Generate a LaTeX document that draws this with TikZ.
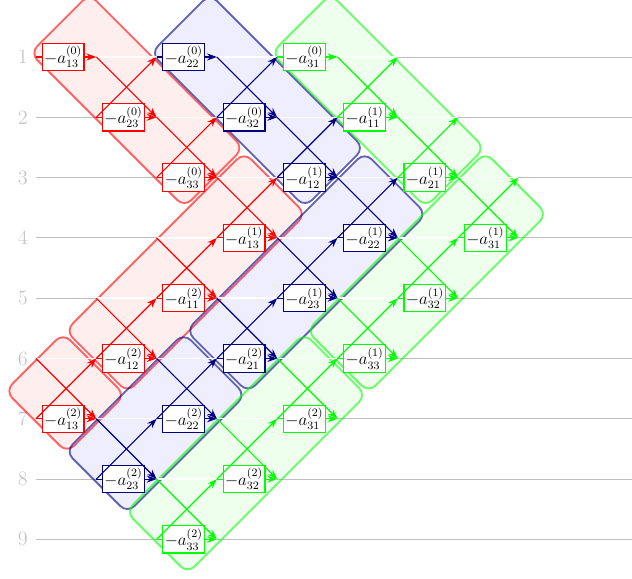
\documentclass[tikz,border=0pt]{standalone}
\usepackage{amsmath}
\usepackage{tikz}
\usetikzlibrary{calc, arrows.meta}
\definecolor{navy}{RGB}{0,0,128}

\begin{document}
\begin{tikzpicture}[x=1.5cm, y=1.5cm,
        cell/.style={draw, fill=white, line width=0.8pt, minimum width=1.04cm, minimum height=0.68cm, inner sep=1pt, font=\large},
        conn/.style={line width=0.8pt, -{Stealth[length=7pt, width=5pt]}},
        band/.style={rounded corners=7pt, line width=1.3pt, draw=#1, draw opacity=0.6, fill=#1, fill opacity=0.065},
        rowlabel/.style={text=black!22, font=\Large, anchor=east, inner sep=0pt}]
    \useasboundingbox (-0.597,-9.657) rectangle (9.884,-0.055);
    % Grid points
    \foreach \c in {0,...,8}
        \foreach \r in {1,...,9}
            \coordinate (p\c\r) at (\c,-\r);
    % Rows
    \foreach \r in {1,...,9} {
        \coordinate (e\r) at (9.884,-\r);
        \draw[black!25, line width=0.6pt] (p0\r) -- (e\r);
        \node[rowlabel] (lab\r) at (-0.13,-\r) {\r};
    }
    % Bands
    \begin{scope}[rotate=-45, scale=0.7071]
        \draw[band=red] (0.84,-1.03) rectangle (5.95,0.93);
        \draw[band=navy, fill=blue] (2.84,0.97) rectangle (7.95,2.93);
        \draw[band=green] (4.84,2.97) rectangle (9.95,4.93);
        \draw[band=red] (6.03,-5.05) rectangle (8.08,0.87);
        \draw[band=red] (6.03,-7.05) rectangle (8.08,-5.13);
        \draw[band=navy, fill=blue] (8.03,-3.05) rectangle (10.08,2.87);
        \draw[band=navy, fill=blue] (8.03,-7.05) rectangle (10.08,-3.13);
        \draw[band=green] (10.03,-1.05) rectangle (12.08,4.87);
        \draw[band=green] (10.03,-7.05) rectangle (12.08,-1.13);
    \end{scope}
    % White lines inside bands
    \foreach \a/\b/\r in {0/6/1, 1/7/2, 2/8/3, 2/8/4, 1/7/5, 0/6/6, 0/5/7, 1/4/8, 2/3/9}
        \draw[white, line width=1pt] (p\a\r) -- (p\b\r);
    % Cells
    \foreach \c/\r/\s/\k/\col in {0/1/13/0/red, 1/2/23/0/red, 2/3/33/0/red, 3/4/13/1/red,
            2/5/11/2/red, 1/6/12/2/red, 0/7/13/2/red,
            2/1/22/0/navy, 3/2/32/0/navy, 4/3/12/1/navy, 5/4/22/1/navy, 4/5/23/1/navy,
            3/6/21/2/navy, 2/7/22/2/navy, 1/8/23/2/navy,
            4/1/31/0/green, 5/2/11/1/green, 6/3/21/1/green, 7/4/31/1/green, 6/5/32/1/green,
            5/6/33/1/green, 4/7/31/2/green, 3/8/32/2/green, 2/9/33/2/green} {
        \pgfmathtruncatemacro{\cn}{\c+1}
        \pgfmathtruncatemacro{\rp}{\r-1}
        \node[cell, draw=\col] (n\c\r) at ($(p\c\r)+(0.45,0)$) {$-a^{(\k)}_{\s}$};
        \draw[\col, line width=0.8pt] (p\c\r) -- (n\c\r.west);
        \draw[conn, \col] (n\c\r.east) -- (p\cn\r);
        \ifnum\r>1
            \draw[conn, \col] (p\c\rp) -- (p\cn\r);
            \draw[conn, \col] (p\c\r) -- (p\cn\rp);
        \fi
    }
\end{tikzpicture}
\end{document}
